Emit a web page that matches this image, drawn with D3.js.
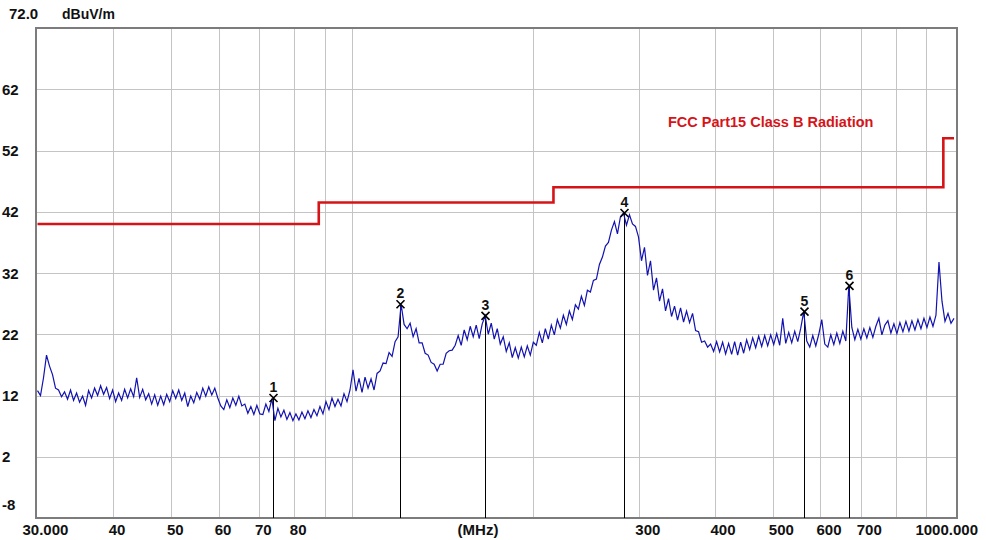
<!DOCTYPE html>
<html>
<head>
    <title>Radiated Emission Scan</title>
    <script src="https://cdnjs.cloudflare.com/ajax/libs/d3/7.8.5/d3.min.js"></script>
    <style>
        body {
            margin: 0;
            background: #ffffff;
            font-family: "Liberation Sans", Arial, sans-serif;
        }
        .tick-label {
            font-size: 15px;
            font-weight: bold;
            fill: #111;
        }
        .marker-label {
            font-size: 14px;
            font-weight: bold;
            fill: #111;
        }
    </style>
</head>
<body>
    <div id="chart"></div>

    <script>
        // Sweep settings (MHz)
        const sweepStart = 30;
        const sweepStop = 1000;

        // Measured level at each sweep point (dBuV/m)
        const levels = [
            12.8, 12.0, 14.9, 18.6, 16.8, 15.4, 13.2, 12.9, 11.8, 12.6,
            11.4, 12.9, 11.2, 12.4, 10.9, 11.9, 10.4, 12.8, 11.6, 13.2,
            12.0, 13.6, 12.2, 13.3, 11.5, 12.9, 11.0, 12.4, 11.2, 13.0,
            11.6, 13.1, 11.8, 14.9, 11.7, 13.0, 11.3, 12.3, 10.6, 12.1,
            10.4, 11.9, 10.5, 12.2, 11.0, 12.8, 11.5, 12.9, 11.2, 12.4,
            10.2, 11.9, 10.8, 12.5, 11.4, 13.2, 11.9, 13.4, 12.1, 13.2,
            11.6, 10.3, 9.7, 11.3, 10.0, 11.6, 10.4, 11.9, 10.3, 10.6,
            9.1, 10.2, 8.9, 10.4, 9.0, 8.9, 10.6, 9.4, 11.5, 7.9,
            9.9, 8.5, 9.6, 8.1, 9.2, 7.9, 9.0, 8.0, 9.3, 8.2,
            9.5, 8.4, 9.7, 8.7, 10.2, 9.0, 11.0, 9.7, 11.6, 10.2,
            11.4, 10.3, 12.3, 11.0, 12.9, 16.2, 12.7, 14.8, 12.5, 15.0,
            13.2, 14.7, 12.9, 15.6, 16.0, 17.3, 17.2, 19.0, 18.4, 20.8,
            21.6, 26.9, 23.6, 22.9, 23.8, 21.6, 22.9, 20.6, 20.6, 18.9,
            18.6, 17.4, 17.1, 16.0, 17.1, 17.1, 18.9, 19.3, 19.4, 20.2,
            21.8, 20.2, 22.7, 21.1, 23.3, 21.6, 23.5, 21.3, 23.7, 25.0,
            22.0, 23.8, 21.2, 22.9, 20.4, 21.6, 19.2, 20.6, 18.2, 19.8,
            18.1, 19.9, 18.3, 20.1, 18.6, 20.7, 20.2, 22.3, 20.6, 22.9,
            21.2, 23.5, 21.9, 24.4, 23.0, 25.1, 23.6, 25.8, 24.4, 26.8,
            26.1, 28.2, 26.7, 29.2, 28.9, 30.8, 31.0, 33.4, 34.6, 36.4,
            37.0, 39.0, 40.4, 38.4, 41.2, 41.8, 39.8, 41.5, 40.0, 39.6,
            37.9, 34.0, 36.2, 31.6, 34.0, 29.2, 31.2, 27.4, 29.4, 25.8,
            27.8, 24.9, 26.6, 24.3, 26.3, 24.0, 25.8, 23.9, 25.4, 22.6,
            22.4, 20.7, 20.9, 19.9, 20.4, 19.2, 20.8, 19.1, 20.7, 18.8,
            20.5, 18.7, 20.8, 18.6, 20.7, 18.9, 21.1, 19.5, 21.4, 19.8,
            21.7, 20.0, 21.8, 20.1, 21.9, 20.3, 22.1, 20.2, 24.6, 20.5,
            22.3, 20.6, 22.5, 20.8, 23.0, 25.7, 20.9, 19.9, 21.8, 20.1,
            22.0, 24.4, 20.4, 19.9, 21.9, 20.3, 22.2, 20.5, 22.5, 20.9,
            29.9, 23.1, 21.1, 22.8, 21.2, 22.9, 21.4, 23.1, 21.5, 23.3,
            24.6, 21.9, 23.5, 24.2, 22.2, 23.7, 22.1, 23.9, 22.4, 24.1,
            22.5, 24.2, 22.7, 24.4, 22.9, 24.6, 23.1, 24.8, 23.3, 25.1,
            33.8, 27.4, 24.1, 25.4, 23.8, 24.6
        ];

        // FCC Part15 Class B limit (step points)
        const limitFreq = [30, 88, 88, 216, 216, 960, 960, 1000];
        const limitLevel = [40, 40, 43.5, 43.5, 46, 46, 54, 54];

        // Peak markers
        const markerFreq = [73.9, 119.9, 166.4, 283.4, 562.5, 668];
        const markerLevel = [11.6, 26.9, 25.0, 41.8, 25.7, 29.9];

        // Axis ticks
        const yTicks = [-8, 2, 12, 22, 32, 42, 52, 62];
        const xGrid = [40, 50, 60, 70, 80, 90, 100, 200, 300, 400, 500, 600, 700, 800, 900];
        const xTickValues = [30, 40, 50, 60, 70, 80, 300, 400, 500, 600, 700, 1000];
        const xTickLabels = ["30.000", "40", "50", "60", "70", "80", "300", "400", "500", "600", "700", "1000.000"];

        const width = 986;
        const height = 540;
        const frame = { left: 36, top: 28, right: 957, bottom: 518 };

        const svg = d3.select("#chart")
            .append("svg")
            .attr("width", width)
            .attr("height", height);

        const x = d3.scaleLog()
            .domain([sweepStart, sweepStop])
            .range([37.5, 954]);

        const y = d3.scaleLinear()
            .domain([-8, 72])
            .range([frame.bottom, frame.top]);

        // Grid
        const grid = svg.append("g").attr("stroke", "#c4c4c4").attr("stroke-width", 1);
        grid.selectAll("line.v")
            .data(xGrid)
            .enter()
            .append("line")
            .attr("x1", d => Math.round(x(d)) + 0.5)
            .attr("x2", d => Math.round(x(d)) + 0.5)
            .attr("y1", frame.top)
            .attr("y2", frame.bottom);
        grid.selectAll("line.h")
            .data(yTicks.slice(1))
            .enter()
            .append("line")
            .attr("x1", frame.left)
            .attr("x2", frame.right)
            .attr("y1", d => Math.round(y(d)) + 0.5)
            .attr("y2", d => Math.round(y(d)) + 0.5);

        // Frame
        svg.append("rect")
            .attr("x", frame.left)
            .attr("y", frame.top)
            .attr("width", frame.right - frame.left)
            .attr("height", frame.bottom - frame.top)
            .attr("fill", "none")
            .attr("stroke", "#7c7c7c")
            .attr("stroke-width", 2);

        // Limit line
        const limitData = limitFreq.map((f, i) => [f, limitLevel[i]]);
        svg.append("path")
            .datum(limitData)
            .attr("fill", "none")
            .attr("stroke", "#d61418")
            .attr("stroke-width", 2.6)
            .attr("d", d3.line().x(d => x(d[0])).y(d => y(d[1])));

        svg.append("text")
            .attr("x", 668)
            .attr("y", 127)
            .attr("fill", "#d61418")
            .style("font-size", "14.5px")
            .style("font-weight", "bold")
            .text("FCC Part15 Class B Radiation");

        // Marker lines (drawn under the trace)
        const markers = markerFreq.map((f, i) => ({ f: f, v: markerLevel[i], n: i + 1 }));
        svg.append("g")
            .selectAll("line")
            .data(markers)
            .enter()
            .append("line")
            .attr("x1", d => Math.round(x(d.f)) + 0.5)
            .attr("x2", d => Math.round(x(d.f)) + 0.5)
            .attr("y1", d => y(d.v))
            .attr("y2", frame.bottom)
            .attr("stroke", "#000")
            .attr("stroke-width", 1);

        // Trace
        const n = levels.length;
        const trace = levels.map((v, i) => [sweepStart * Math.pow(sweepStop / sweepStart, i / (n - 1)), v]);
        svg.append("path")
            .datum(trace)
            .attr("fill", "none")
            .attr("stroke", "#1212b0")
            .attr("stroke-width", 1.2)
            .attr("d", d3.line().x(d => x(d[0])).y(d => y(d[1])));

        // Marker crosses and numbers
        const mg = svg.append("g")
            .selectAll("g")
            .data(markers)
            .enter()
            .append("g")
            .attr("transform", d => `translate(${Math.round(x(d.f)) + 0.5},${y(d.v)})`);
        mg.append("path")
            .attr("d", "M-4,-4L4,4M-4,4L4,-4")
            .attr("stroke", "#000")
            .attr("stroke-width", 1.6);
        mg.append("text")
            .attr("class", "marker-label")
            .attr("text-anchor", "middle")
            .attr("y", -6)
            .text(d => d.n);

        // Y labels
        svg.append("g")
            .selectAll("text")
            .data(yTicks)
            .enter()
            .append("text")
            .attr("class", "tick-label")
            .attr("x", 2)
            .attr("y", d => d === -8 ? y(d) - 8 : y(d) + 5.5)
            .text(d => d);

        svg.append("text").attr("class", "tick-label").attr("x", 9).attr("y", 19).text("72.0");
        svg.append("text").attr("class", "tick-label").attr("x", 62).attr("y", 19).style("font-size", "14px").text("dBuV/m");

        // X labels
        svg.append("g")
            .selectAll("text")
            .data(xTickValues)
            .enter()
            .append("text")
            .attr("class", "tick-label")
            .attr("x", (d, i) => i === 0 ? x(d) - 15 : (i === xTickValues.length - 1 ? x(d) + 24 : x(d) - 4))
            .attr("text-anchor", (d, i) => i === xTickValues.length - 1 ? "end" : "start")
            .attr("y", 535)
            .text((d, i) => xTickLabels[i]);

        svg.append("text")
            .attr("class", "tick-label")
            .attr("x", 478)
            .attr("y", 535)
            .attr("text-anchor", "middle")
            .text("(MHz)");
    </script>
</body>
</html>
